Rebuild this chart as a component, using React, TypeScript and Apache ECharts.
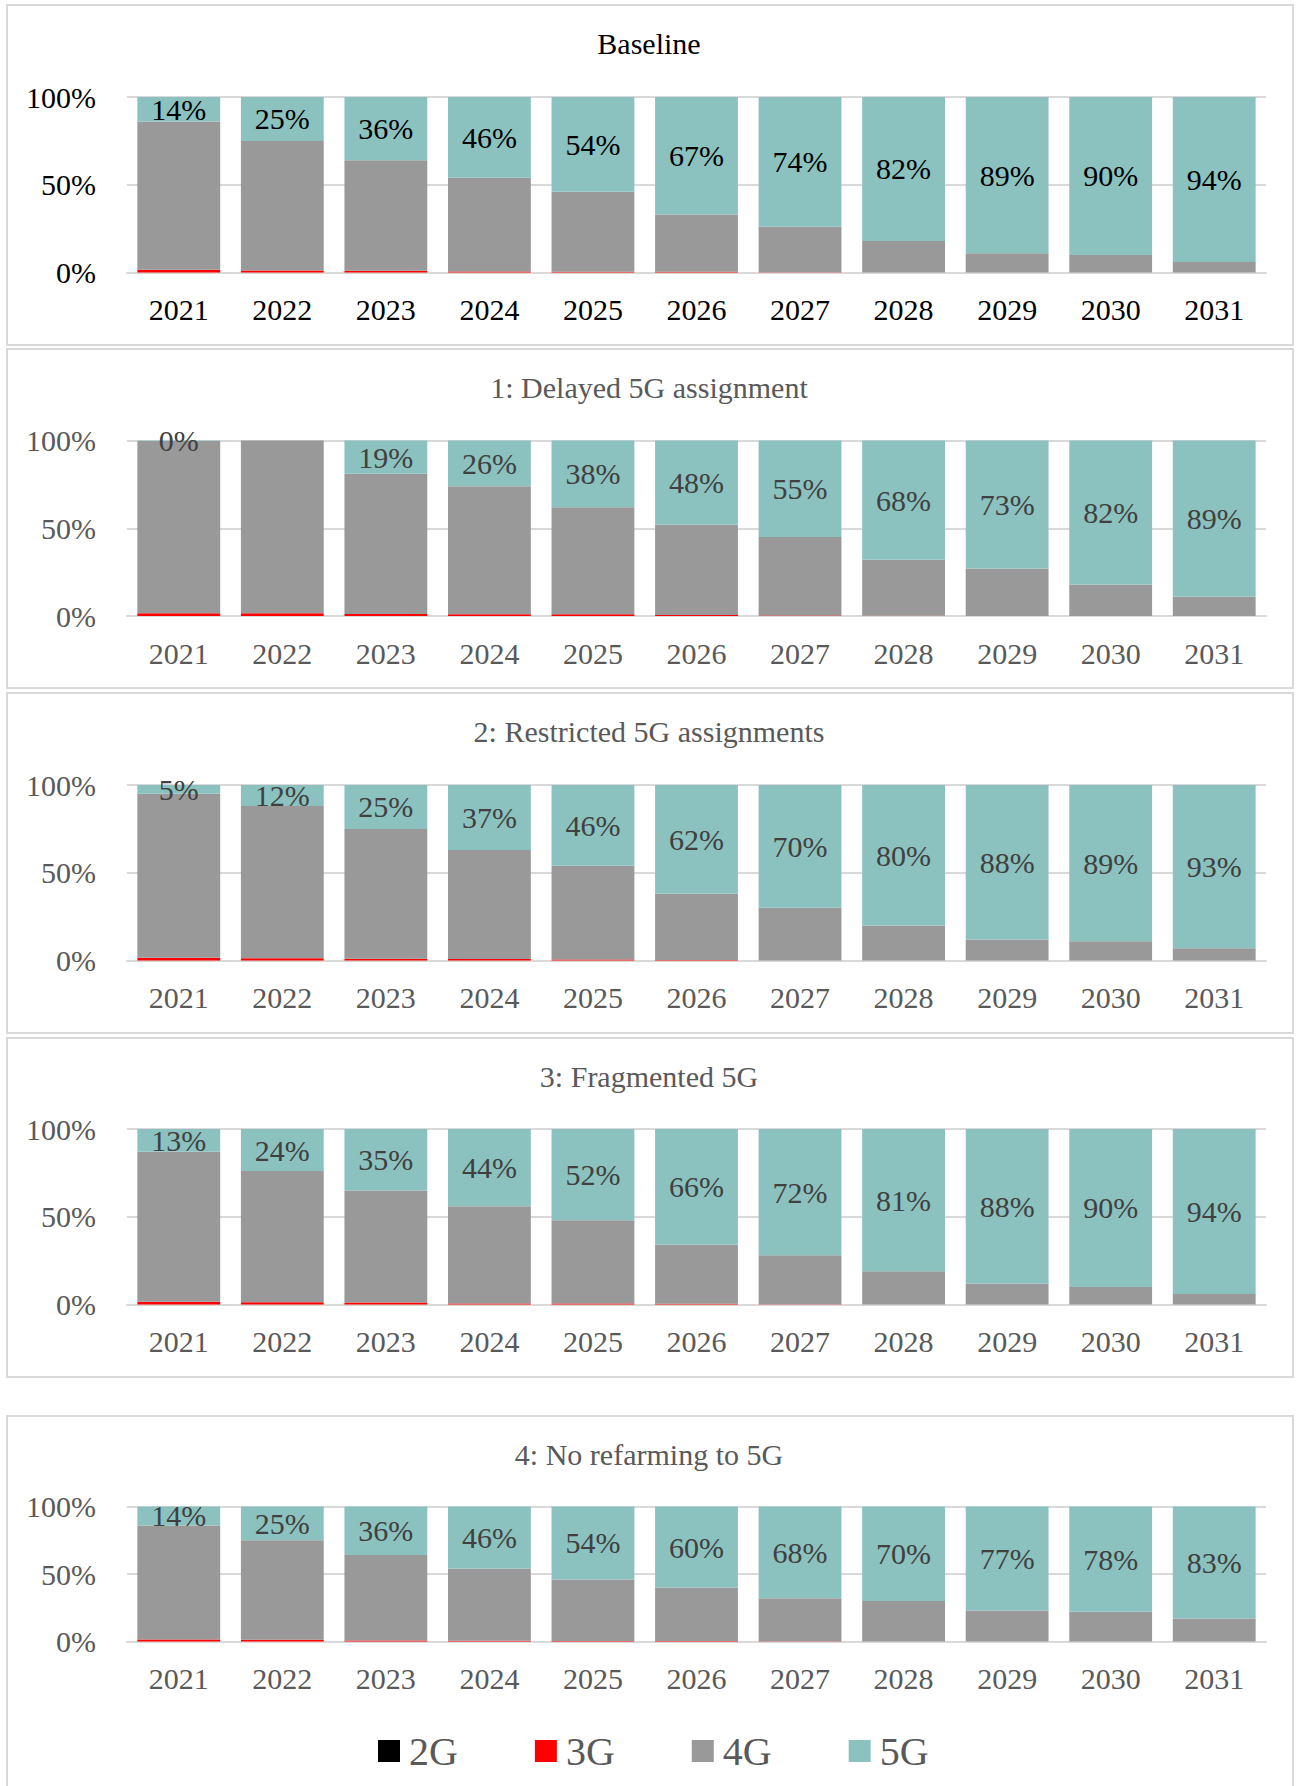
import React, { useEffect, useRef } from "react";
import * as echarts from "echarts";

const years = ["2021", "2022", "2023", "2024", "2025", "2026", "2027", "2028", "2029", "2030", "2031"];
const panelTitles = [
  "Baseline",
  "1: Delayed 5G assignment",
  "2: Restricted 5G assignments",
  "3: Fragmented 5G",
  "4: No refarming to 5G",
];
const yTicks = [0, 50, 100];

// Baseline
const base2G = [0, 0, 0, 0, 0, 0, 0, 0, 0, 0, 0];
const base3G = [1.5, 1.2, 1.0, 0.6, 0.4, 0.4, 0.2, 0, 0, 0, 0];
const base4G = [84.5, 73.8, 63.0, 53.4, 45.6, 32.6, 25.8, 18, 11, 10, 6];
const base5G = [14, 25, 36, 46, 54, 67, 74, 82, 89, 90, 94];

// 1: Delayed 5G assignment
const delayed2G = [0, 0, 0, 0, 0, 0, 0, 0, 0, 0, 0];
const delayed3G = [1.6, 1.5, 1.2, 1.0, 1.0, 0.6, 0.3, 0.2, 0, 0, 0];
const delayed4G = [98.1, 98.5, 79.8, 73.0, 61.0, 51.4, 44.7, 31.8, 27, 18, 11];
const delayed5G = [0.3, null, 19, 26, 38, 48, 55, 68, 73, 82, 89];

// 2: Restricted 5G assignments
const restricted2G = [0, 0, 0, 0, 0, 0, 0, 0, 0, 0, 0];
const restricted3G = [1.5, 1.3, 1.0, 0.8, 0.5, 0.3, 0, 0, 0, 0, 0];
const restricted4G = [93.5, 86.7, 74.0, 62.2, 53.5, 37.7, 30, 20, 12, 11, 7];
const restricted5G = [5, 12, 25, 37, 46, 62, 70, 80, 88, 89, 93];

// 3: Fragmented 5G
const fragmented2G = [0, 0, 0, 0, 0, 0, 0, 0, 0, 0, 0];
const fragmented3G = [1.5, 1.3, 1.2, 0.6, 0.5, 0.4, 0.2, 0, 0, 0, 0];
const fragmented4G = [85.5, 74.7, 63.8, 55.4, 47.5, 33.6, 27.8, 19, 12, 10, 6];
const fragmented5G = [13, 24, 35, 44, 52, 66, 72, 81, 88, 90, 94];

// 4: No refarming to 5G
const norefarm2G = [0, 0, 0, 0, 0, 0, 0, 0, 0, 0, 0];
const norefarm3G = [1.5, 1.3, 0.8, 0.6, 0.4, 0.3, 0.2, 0, 0, 0, 0];
const norefarm4G = [84.5, 73.7, 63.2, 53.4, 45.6, 39.7, 31.8, 30, 23, 22, 17];
const norefarm5G = [14, 25, 36, 46, 54, 60, 68, 70, 77, 78, 83];

const techNames = ["2G", "3G", "4G", "5G"];
const techColors = ["#000000", "#ff0000", "#999999", "#8bc2bf"];

const panelData = [
  [base2G, base3G, base4G, base5G],
  [delayed2G, delayed3G, delayed4G, delayed5G],
  [restricted2G, restricted3G, restricted4G, restricted5G],
  [fragmented2G, fragmented3G, fragmented4G, fragmented5G],
  [norefarm2G, norefarm3G, norefarm4G, norefarm5G],
];

// layout (pixels)
const panelBoxes = [
  { y: 5, h: 340 },
  { y: 349, h: 339 },
  { y: 693, h: 340 },
  { y: 1038, h: 339 },
  { y: 1416, h: 400 },
];
const gridBoxes = [
  { top: 97, height: 175.5 },
  { top: 440.5, height: 175.5 },
  { top: 785, height: 175.5 },
  { top: 1129, height: 175.5 },
  { top: 1506.5, height: 135 },
];

const FONT = "Liberation Serif";

export default function App() {
  const ref = useRef<HTMLDivElement>(null);

  useEffect(() => {
    document.body.style.margin = "0";
    if (!ref.current) return;
    const chart = echarts.init(ref.current, undefined, { renderer: "svg" });

    const grids: any[] = [];
    const xAxes: any[] = [];
    const yAxes: any[] = [];
    const series: any[] = [];
    const titles: any[] = [];
    const graphics: any[] = [];

    panelData.forEach((arrs, p) => {
      const isBase = p === 0;
      const axisColor = isBase ? "#000000" : "#595959";
      const labelColor = isBase ? "#000000" : "#404040";
      const titleColor = isBase ? "#000000" : "#595959";
      const pb = panelBoxes[p];
      const gb = gridBoxes[p];

      graphics.push({
        type: "rect",
        shape: { x: 7, y: pb.y, width: 1286, height: pb.h },
        style: { fill: "none", stroke: "#d9d9d9", lineWidth: 2 },
        z: 0,
      });

      titles.push({
        text: panelTitles[p],
        left: "center",
        top: pb.y + 38 - 17,
        padding: 0,
        textStyle: {
          fontFamily: FONT,
          fontSize: 30,
          fontWeight: "normal",
          color: titleColor,
          lineHeight: 34,
        },
      });

      grids.push({ left: 127, right: 32, top: gb.top, height: gb.height, containLabel: false });

      xAxes.push({
        type: "category",
        gridIndex: p,
        data: years,
        axisTick: { show: false },
        axisLine: { show: true, lineStyle: { color: "#d9d9d9", width: 2 } },
        axisLabel: {
          fontFamily: FONT,
          fontSize: 30,
          color: axisColor,
          margin: 22,
          lineHeight: 30,
        },
      });

      yAxes.push({
        type: "value",
        gridIndex: p,
        min: yTicks[0],
        max: yTicks[yTicks.length - 1],
        interval: yTicks[1] - yTicks[0],
        axisLine: { show: false },
        axisTick: { show: false },
        splitLine: { lineStyle: { color: "#d9d9d9", width: 2 } },
        axisLabel: {
          fontFamily: FONT,
          fontSize: 30,
          color: axisColor,
          margin: 31,
          formatter: "{value}%",
        },
      });

      arrs.forEach((vals, t) => {
        const s: any = {
          name: techNames[t],
          type: "bar",
          xAxisIndex: p,
          yAxisIndex: p,
          stack: "panel" + p,
          data: vals,
          barCategoryGap: "20%",
          itemStyle: { color: techColors[t] },
          emphasis: { disabled: true },
        };
        if (t === 3) {
          s.label = {
            show: true,
            position: "inside",
            fontFamily: FONT,
            fontSize: 30,
            color: labelColor,
            formatter: (d: any) => Math.round(d.value) + "%",
          };
        }
        series.push(s);
      });
    });

    chart.setOption({
      animation: false,
      backgroundColor: "#ffffff",
      textStyle: { fontFamily: FONT },
      title: titles,
      grid: grids,
      xAxis: xAxes,
      yAxis: yAxes,
      series,
      graphic: graphics,
      legend: {
        data: techNames,
        left: 373,
        top: 1724,
        itemWidth: 22,
        itemHeight: 22,
        itemGap: 77,
        icon: "rect",
        selectedMode: false,
        textStyle: {
          fontFamily: FONT,
          fontSize: 40,
          color: "#595959",
          lineHeight: 44,
          padding: [0, 0, 0, 4],
        },
      },
    });

    return () => chart.dispose();
  }, []);

  return <div ref={ref} style={{ width: 1298, height: 1786 }} />;
}
